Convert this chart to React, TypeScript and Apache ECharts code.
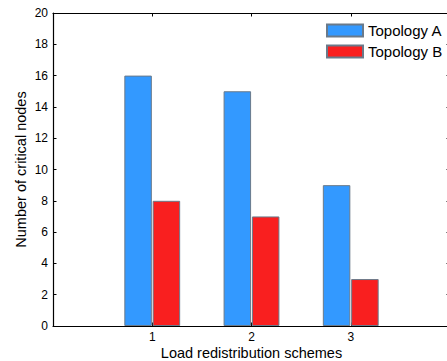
import React, { useEffect, useRef } from "react";
import * as echarts from "echarts";

const schemes = [1, 2, 3];
const topologyA = [16, 15, 9];
const topologyB = [8, 7, 3];
const yTicks = [0, 2, 4, 6, 8, 10, 12, 14, 16, 18, 20];
const seriesNames = ["Topology A", "Topology B"];

const FONT = "'Liberation Sans', Arial, Helvetica, sans-serif";

export default function App() {
  const ref = useRef<HTMLDivElement>(null);
  useEffect(() => {
    if (!ref.current) return;
    const chart = echarts.init(ref.current, undefined, { renderer: "svg" });
    const axisLine = { show: true, onZero: false, lineStyle: { color: "#000", width: 1.2 } };
    const tick = { show: true, inside: true, length: 3.5, lineStyle: { color: "#000", width: 1 } };
    chart.setOption({
      animation: false,
      backgroundColor: "#fff",
      textStyle: { fontFamily: FONT },
      grid: {
        left: 53,
        top: 13,
        width: 397,
        height: 313,
        containLabel: false,
        outerBoundsMode: "none",
      },
      legend: {
        orient: "vertical",
        left: 326,
        top: 23,
        padding: 0,
        itemWidth: 36,
        itemHeight: 12,
        itemGap: 6,
        icon: "rect",
        data: seriesNames,
        textStyle: { fontFamily: FONT, fontSize: 15, color: "#000" },
      },
      xAxis: [
        {
          type: "value",
          min: 0,
          max: 4,
          interval: 1,
          name: "Load redistribution schemes",
          nameLocation: "middle",
          nameGap: 19,
          nameMoveOverlap: false,
          nameTextStyle: { fontFamily: FONT, fontSize: 14.5, color: "#000" },
          axisLine,
          axisTick: tick,
          splitLine: { show: false },
          axisLabel: {
            fontFamily: FONT,
            fontSize: 12,
            color: "#000",
            margin: 5,
            formatter: (v: number) => (schemes.indexOf(v) >= 0 ? String(v) : ""),
          },
        },
        {
          type: "value",
          position: "top",
          min: 0,
          max: 4,
          interval: 1,
          axisLine,
          axisTick: tick,
          splitLine: { show: false },
          axisLabel: { show: false },
        },
      ],
      yAxis: [
        {
          type: "value",
          min: yTicks[0],
          max: yTicks[yTicks.length - 1],
          interval: 2,
          name: "Number of critical nodes",
          nameLocation: "middle",
          nameGap: 25,
          nameMoveOverlap: false,
          nameTextStyle: { fontFamily: FONT, fontSize: 14.5, color: "#000" },
          axisLine,
          axisTick: tick,
          splitLine: { show: false },
          axisLabel: { fontFamily: FONT, fontSize: 12, color: "#000", margin: 5 },
        },
        {
          type: "value",
          position: "right",
          min: yTicks[0],
          max: yTicks[yTicks.length - 1],
          interval: 2,
          axisLine,
          axisTick: tick,
          splitLine: { show: false },
          axisLabel: { show: false },
        },
      ],
      series: [
        {
          name: seriesNames[0],
          type: "bar",
          barWidth: 27.5,
          barGap: "3%",
          data: schemes.map((s, i) => [s, topologyA[i]]),
          itemStyle: { color: "#3399ff", borderColor: "#6a7a8a", borderWidth: 1 },
        },
        {
          name: seriesNames[1],
          type: "bar",
          barWidth: 27.5,
          barGap: "3%",
          data: schemes.map((s, i) => [s, topologyB[i]]),
          itemStyle: { color: "#f91f1f", borderColor: "#6a7a8a", borderWidth: 1 },
        },
      ],
    });
    return () => chart.dispose();
  }, []);
  return (
    <div
      ref={ref}
      style={{ position: "fixed", left: 0, top: 0, width: 447, height: 361, background: "#fff" }}
    />
  );
}
